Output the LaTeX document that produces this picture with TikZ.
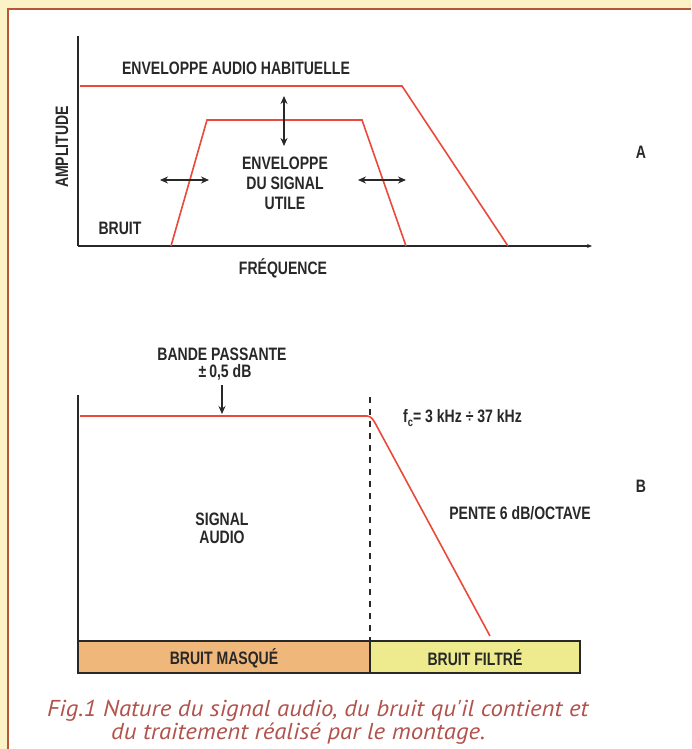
\documentclass[tikz,border=0pt]{standalone}
\usepackage{fontspec}
\usepackage{tikz}
\usetikzlibrary{arrows.meta}
\newfontfamily\condfont[FakeStretch=0.78]{Liberation Sans}
\newfontfamily\capfont[FakeStretch=1.08]{PT Sans}
\definecolor{cream}{RGB}{251,242,198}
\definecolor{framered}{RGB}{184,86,60}
\definecolor{curvered}{RGB}{233,74,58}
\definecolor{inkgray}{RGB}{40,40,40}
\definecolor{masqorange}{RGB}{240,183,122}
\definecolor{filtyellow}{RGB}{237,235,142}
\definecolor{captred}{RGB}{178,82,76}
\tikzset{
  lbl/.style={font=\condfont\bfseries\fontsize{18}{19}\selectfont,text=inkgray,align=center,inner sep=0pt},
  axis/.style={inkgray,line width=2pt},
  curve/.style={curvered,line width=1.6pt},
  dbl/.style={inkgray,line width=1.2pt,{Stealth[length=8pt,width=7pt]}-{Stealth[length=8pt,width=7pt]}},
  capline/.style={anchor=base west,inner sep=0pt,text=captred,font=\capfont\itshape\fontsize{23}{25}\selectfont}
}

\begin{document}
\begin{tikzpicture}[x=1pt,y=-1pt]
\useasboundingbox (0,0) rectangle (691,749);
\fill[cream] (0,0) rectangle (691,749);
\fill[white] (8,9) rectangle (691,749);
\draw[framered,line width=2.5pt] (8,749) -- (8,9) -- (691,9);

% --- chart A
\coordinate (oA) at (78,246);
\draw[axis] (78,36) -- (oA);
\draw[axis,-{Stealth[length=5pt,width=4pt]}] (oA) -- (592,246);
\draw[curve] (80,86) -- (402,86) -- (508,246);
\draw[curve] (171,246) -- (207,120) -- (362,120) -- (406,246);
\coordinate (vtop) at (284,96);
\coordinate (vbot) at (284,146);
\draw[dbl] (vtop) -- (vbot);
\coordinate (lwest) at (160,180);
\coordinate (least) at (209,180);
\draw[dbl] (lwest) -- (least);
\coordinate (rwest) at (358,180);
\coordinate (reast) at (406,180);
\draw[dbl] (rwest) -- (reast);
\node[lbl] (habit) at (236,68) {ENVELOPPE AUDIO HABITUELLE};
\node[lbl,rotate=90] (ampl) at (62,147) {AMPLITUDE};
\node[lbl,font=\condfont\bfseries\fontsize{18}{20}\selectfont,anchor=north] (utile) at (285,157) {ENVELOPPE\\DU SIGNAL\\UTILE};
\node[lbl] (bruit) at (120,228) {BRUIT};
\node[lbl] (freq) at (283,268) {FRÉQUENCE};
\node[lbl] (labA) at (641,152) {A};

% --- chart B
\coordinate (oB) at (78,640);
\draw[axis] (78,395) -- (oB);
\draw[inkgray,line width=1.1pt,dash pattern=on 6pt off 6pt] (370,397) -- (370,640);
\draw[curve,rounded corners=3pt] (80,416) -- (370,416) -- (374,421) -- (490,636);
\node[lbl] (bande) at (222,354) {BANDE PASSANTE};
\node[lbl] (tol) at (225,372) {±\,0,5 dB};
\coordinate (bpin) at (222,414);
\draw[inkgray,line width=1.2pt,-{Stealth[length=8pt,width=7pt]}] (tol.south -| bpin) ++(0,5) -- (bpin);
\node[lbl,anchor=west] (fc) at (403,418) {f\raisebox{-4pt}{\fontsize{12}{12}\selectfont c}= 3 kHz ÷ 37 kHz};
\node[lbl] (labB) at (641,486) {B};
\node[lbl,font=\condfont\bfseries\fontsize{18}{18}\selectfont,anchor=north] (sig) at (222,513) {SIGNAL\\AUDIO};
\node[lbl] (pente) at (520,513) {PENTE 6 dB/OCTAVE};

% --- bande du bas
\draw[inkgray,line width=1.6pt,fill=masqorange] (78,641) rectangle (370,673);
\draw[inkgray,line width=1.6pt,fill=filtyellow] (370,641) rectangle (580,673);
\node[lbl] (masq) at (224,658) {BRUIT MASQUÉ};
\node[lbl] (filt) at (475,658) {BRUIT FILTRÉ};

% --- legende
\node[capline] (cap1) at (47,716) {Fig.1 Nature du signal audio, du bruit qu'il contient et};
\node[capline] (cap2) at (111,739) {du traitement réalisé par le montage.};
\end{tikzpicture}
\end{document}
